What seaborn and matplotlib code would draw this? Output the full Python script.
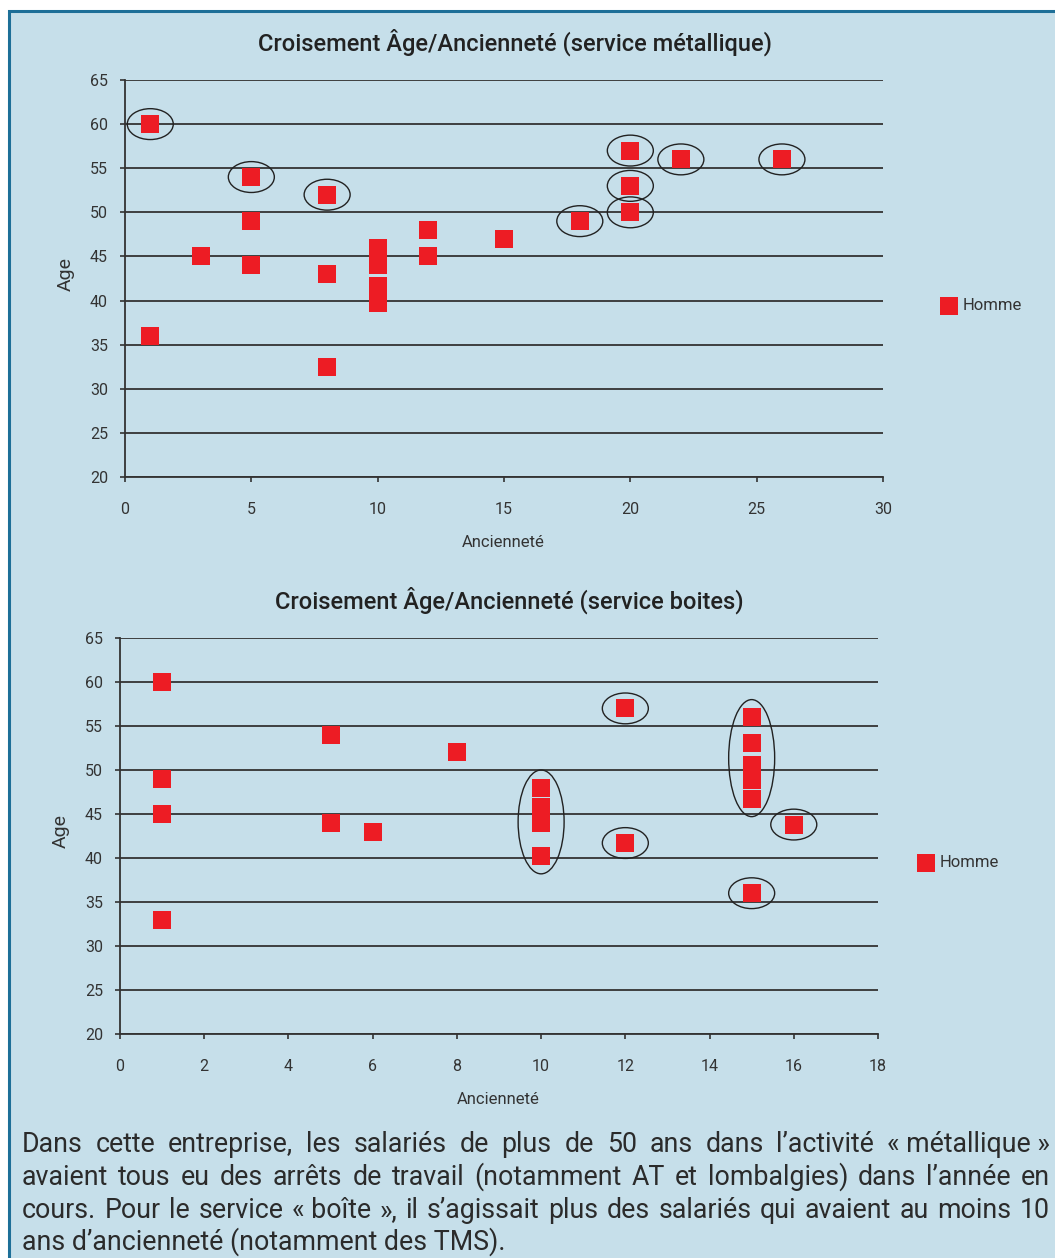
import matplotlib
matplotlib.use("Agg")
import matplotlib.pyplot as plt
from matplotlib.patches import Ellipse, Rectangle
import pandas as pd
import seaborn as sns

# ---- data -------------------------------------------------------------
anc_metal = [1, 1, 3, 5, 5, 5, 8, 8, 8, 10, 10, 10, 10, 12, 12, 15, 18, 20, 20, 20, 22, 26]
age_metal = [60, 36, 45, 54, 49, 44, 52, 43, 32.5, 46, 44, 41.7, 39.7, 48, 45, 47, 49, 57, 53, 50, 56, 56]

anc_boite = [1, 1, 1, 1, 5, 5, 6, 8, 10, 10, 10, 10, 12, 12, 15, 15, 15, 15, 15, 15, 16]
age_boite = [60, 49, 45, 33, 54, 44, 43, 52, 48, 45.8, 44, 40.2, 57, 41.7, 56, 53.1, 50.6, 48.9, 46.7, 36, 43.8]

# circled employees: (ancienneté, lowest age, highest age)
rings_metal = [(1, 60, 60), (5, 54, 54), (8, 52, 52), (18, 49, 49), (20, 57, 57),
               (20, 53, 53), (20, 50, 50), (22, 56, 56), (26, 56, 56)]
rings_boite = [(12, 57, 57), (12, 41.7, 41.7), (16, 43.8, 43.8), (15, 36, 36),
               (10, 40.2, 48), (15, 46.7, 56)]

titles = ["Croisement Âge/Ancienneté (service métallique)",
          "Croisement Âge/Ancienneté (service boites)"]
x_label = "Ancienneté"
y_label = "Age"
series_label = "Homme"
y_ticks = [20, 25, 30, 35, 40, 45, 50, 55, 60, 65]
x_ticks_metal = [0, 5, 10, 15, 20, 25, 30]
x_ticks_boite = [0, 2, 4, 6, 8, 10, 12, 14, 16, 18]

paragraph = [
    "Dans cette entreprise, les salariés de plus de 50 ans dans l’activité « métallique »",
    "avaient tous eu des arrêts de travail (notamment AT et lombalgies) dans l’année en",
    "cours. Pour le service « boîte », il s’agissait plus des salariés qui avaient au moins 10",
    "ans d’ancienneté (notamment des TMS).",
]

# ---- style --------------------------------------------------------------
W, H = 1055, 1258
BG = "#c6dfea"
RED = "#ed1c24"
INK = "#333333"
FRAME = "#1d6f98"

sns.set_style("white")
plt.rcParams["font.family"] = ["Roboto", "DejaVu Sans"]

fig = plt.figure(figsize=(W / 100, H / 100), dpi=100)
fig.patch.set_facecolor("white")
fig.add_artist(Rectangle((8.5 / W, -0.05), 1.1, 1.05 - 10.5 / H,
                         transform=fig.transFigure, facecolor=BG,
                         edgecolor=FRAME, linewidth=2.2, zorder=-10))


def panel(box, anc, age, xticks, rings, title, legend_x, legend_y):
    left, top, right, bottom = box
    ax = fig.add_axes([left / W, 1 - bottom / H, (right - left) / W, (bottom - top) / H])
    ax.set_facecolor("none")
    df = pd.DataFrame({x_label: anc, y_label: age})
    sns.scatterplot(data=df, x=x_label, y=y_label, ax=ax, marker="s", s=150,
                    color=RED, linewidth=0, label=series_label, zorder=3, clip_on=False)

    xmax = xticks[-1]
    ax.set_xlim(0, xmax)
    ax.set_ylim(20, 65)
    ax.set_xticks(xticks)
    ax.set_yticks(y_ticks)

    ax.set_axisbelow(True)
    ax.yaxis.grid(True, color=INK, linewidth=1.3)
    ax.xaxis.grid(False)
    for side in ("top", "right"):
        ax.spines[side].set_visible(False)
    for side in ("left", "bottom"):
        ax.spines[side].set_color(INK)
        ax.spines[side].set_linewidth(1.3)
    ax.tick_params(axis="both", bottom=True, left=True, direction="out", length=3.3,
                   width=1.2, color=INK, labelcolor=INK, labelsize=11.5)
    ax.tick_params(axis="x", pad=14.5)
    ax.tick_params(axis="y", pad=9)

    ax.set_xlabel(x_label, fontsize=12, color=INK)
    ax.xaxis.set_label_coords(0.499, -0.146)
    ax.set_ylabel(y_label, fontsize=14, color=INK)
    ax.yaxis.set_label_coords(-0.066, 0.512)

    ax.text(0.514, 1.096, title, transform=ax.transAxes, ha="center", va="center",
            fontsize=17, fontweight="medium", color="#222222")

    # hand-drawn style rings around the employees with sick leave
    ring_w = 46 * xmax / (right - left)
    for x, y0, y1 in rings:
        h = 3.5 if y1 == y0 else (y1 - y0) + 4
        ax.add_patch(Ellipse((x, (y0 + y1) / 2), ring_w, h, fill=False,
                             edgecolor="#222222", linewidth=1.0, zorder=4, clip_on=False))

    handles, labels = ax.get_legend_handles_labels()
    ax.legend(handles, labels, loc="center left", bbox_to_anchor=(legend_x, legend_y),
              frameon=False, borderpad=0, borderaxespad=0, handlelength=1.0,
              handletextpad=0.35, fontsize=12, scatterpoints=1, labelcolor=INK)
    return ax


panel((125, 80, 883, 477), anc_metal, age_metal, x_ticks_metal, rings_metal,
      titles[0], 1.076, 0.431)
panel((120, 638, 878, 1034), anc_boite, age_boite, x_ticks_boite, rings_boite,
      titles[1], 1.052, 0.432)

# ---- justified commentary -------------------------------------------------
renderer = fig.canvas.get_renderer()
TEXT_LEFT, TEXT_RIGHT = 22, 1050
LAST_LINE_END = 505
baselines = [1152, 1185, 1218, 1250]
TEXT_COLOR = "#2b2b2b"


def text_width(s, size):
    t = fig.text(0, 0, s, fontsize=size)
    w = t.get_window_extent(renderer).width
    t.remove()
    return w


# pick a size so the closing line ends where the paragraph's last line does,
# while the justified lines still fit with normal word spacing
probe = 16
size_last = probe * (LAST_LINE_END - TEXT_LEFT) / text_width(paragraph[-1], probe)
size_fit = min(probe * (TEXT_RIGHT - TEXT_LEFT - 8) / text_width(l, probe)
               for l in paragraph[:-1])
TEXT_SIZE = min(size_last, size_fit)


def words_of(line):
    tokens = []
    for w in line.split(" "):
        if tokens and (w == "»" or tokens[-1].endswith("«")):
            tokens[-1] += " " + w
        else:
            tokens.append(w)
    return tokens


for i, (line, yb) in enumerate(zip(paragraph, baselines)):
    y = 1 - yb / H
    if i == len(paragraph) - 1:
        fig.text(TEXT_LEFT / W, y, line, fontsize=TEXT_SIZE, color=TEXT_COLOR,
                 ha="left", va="baseline")
        continue
    tokens = words_of(line)
    items = [fig.text(0, y, tok, fontsize=TEXT_SIZE, color=TEXT_COLOR,
                      ha="left", va="baseline") for tok in tokens]
    widths = [t.get_window_extent(renderer).width for t in items]
    gap = (TEXT_RIGHT - TEXT_LEFT - sum(widths)) / (len(items) - 1)
    x = TEXT_LEFT
    for t, w in zip(items, widths):
        t.set_x(x / W)
        x += w + gap

fig.savefig("out.png", dpi=100)
